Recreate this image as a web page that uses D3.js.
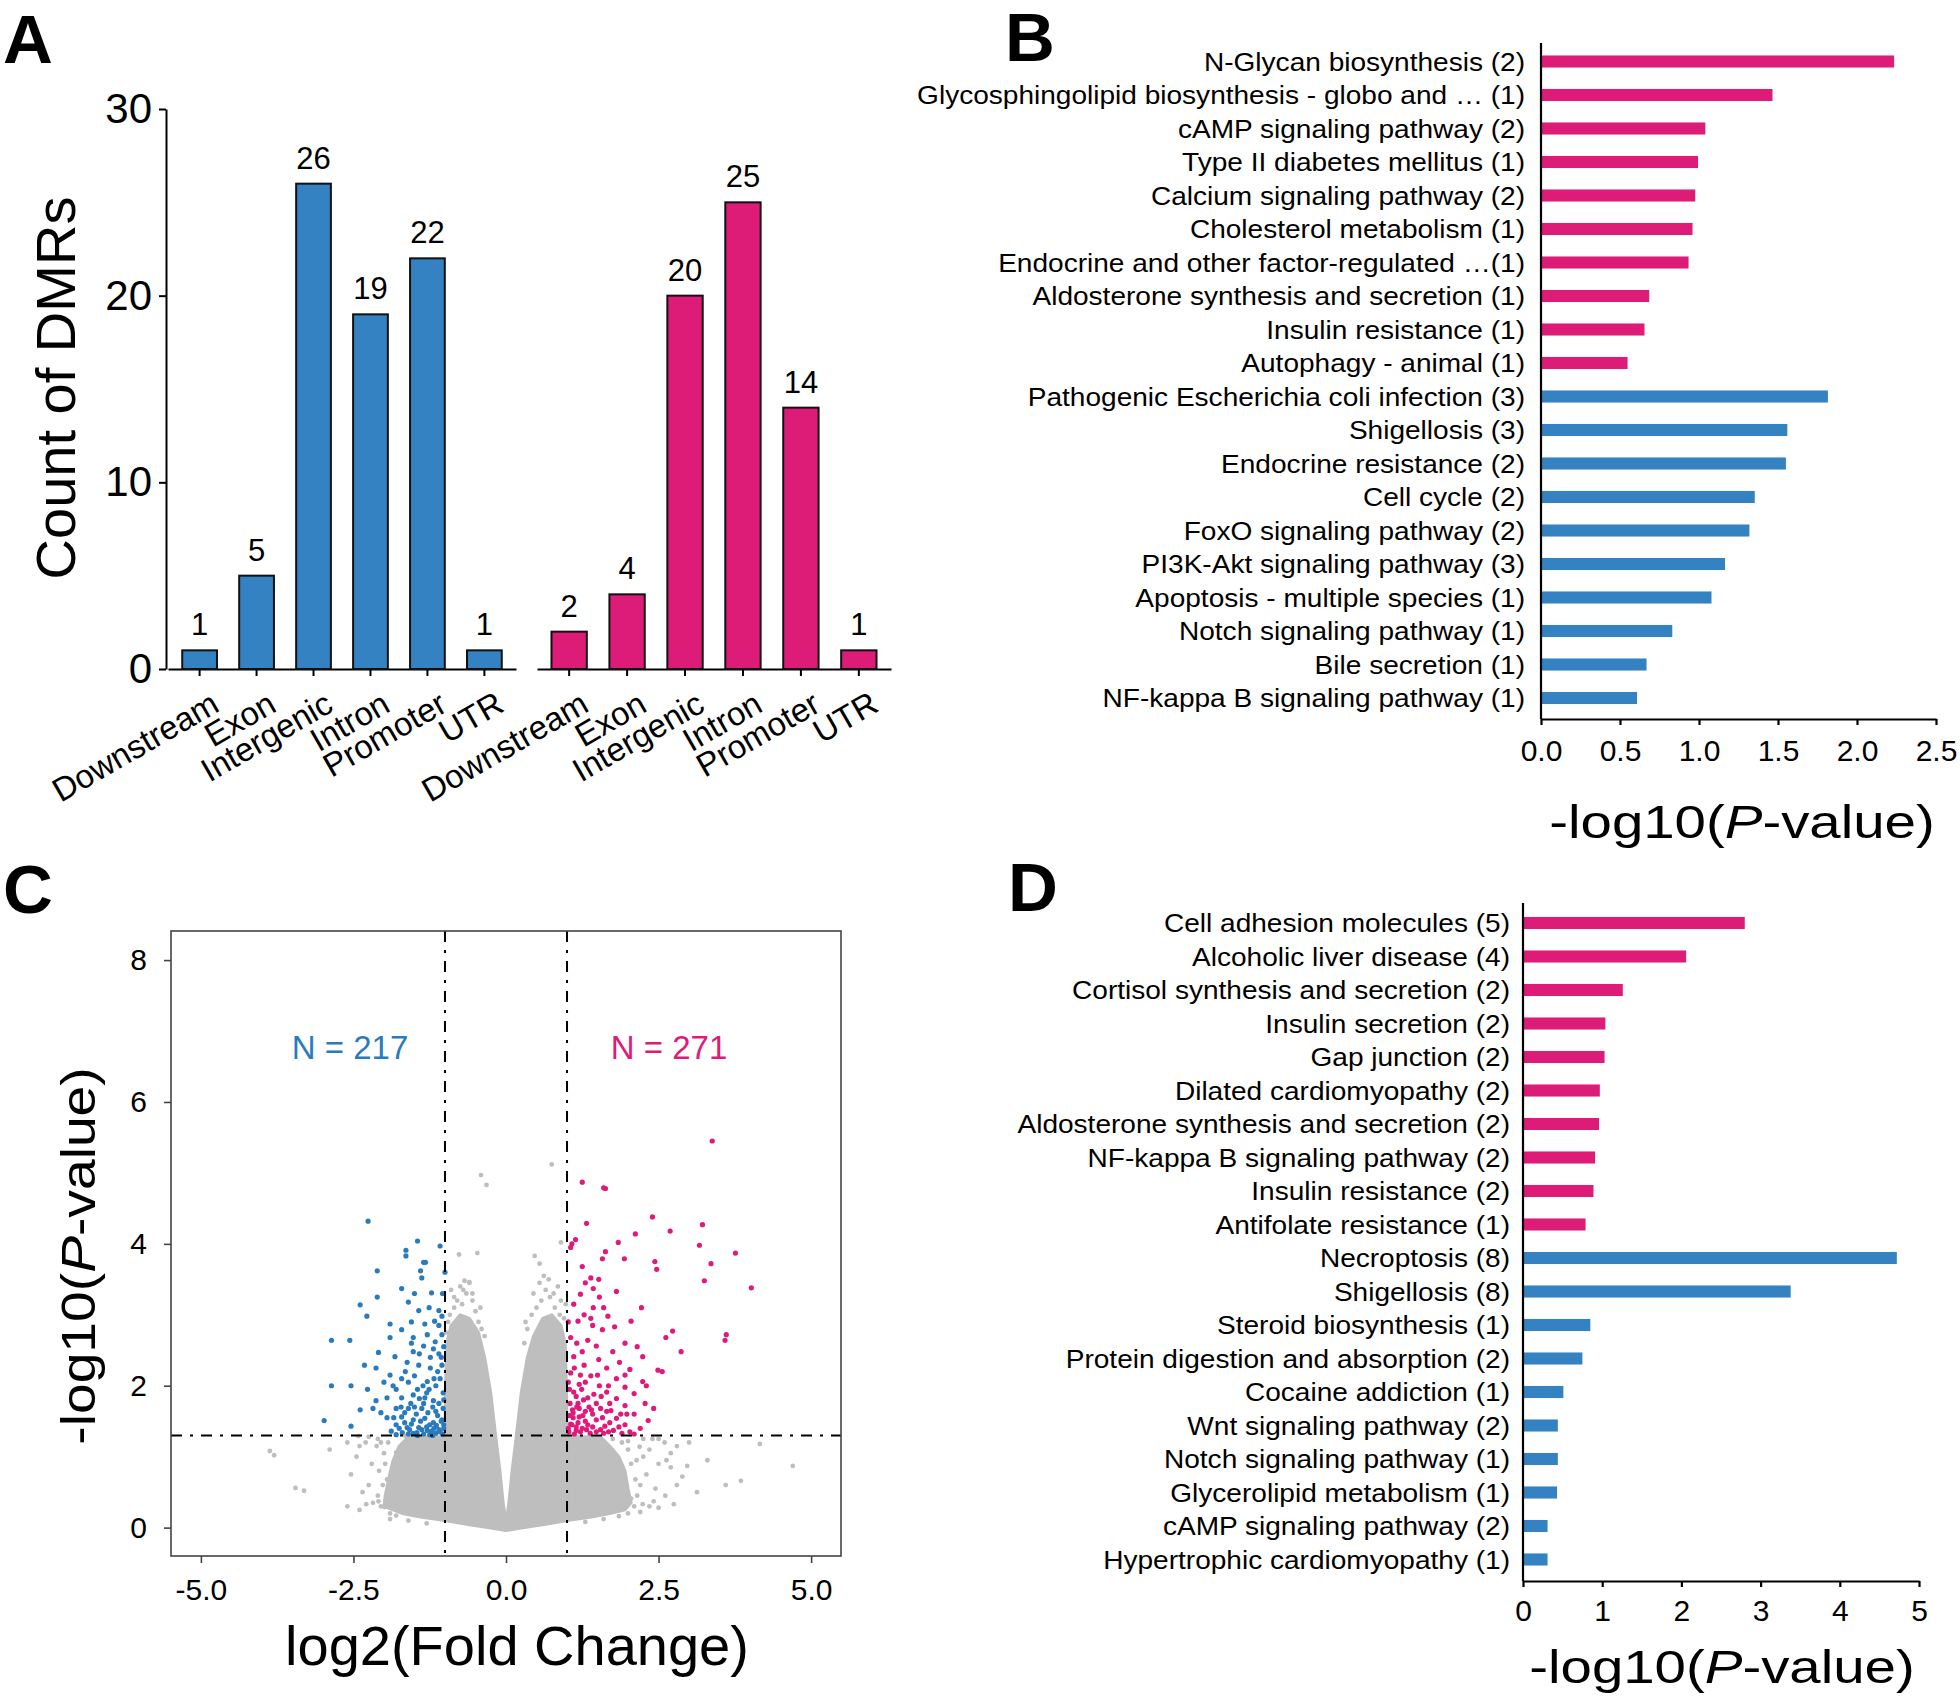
<!DOCTYPE html>
<html><head><meta charset="utf-8">
<script src="https://cdn.jsdelivr.net/npm/d3@7"></script>
<style>
body{margin:0;background:#fff}
text{font-family:"Liberation Sans",Arial,Helvetica,sans-serif;fill:#000}
</style>
</head><body>
<svg id="fig" width="1960" height="1698" xmlns="http://www.w3.org/2000/svg"></svg>
<script>
// ---------------- DATA ----------------
// Panel A
const regionCats = ["Downstream","Exon","Intergenic","Intron","Promoter","UTR"];
const hypoCounts = [1,5,26,19,22,1];
const hyperCounts = [2,4,20,25,14,1];
const countTicks = [0,10,20,30];

// Panel B
const bHyperTerms = ["N-Glycan biosynthesis (2)","Glycosphingolipid biosynthesis - globo and \u2026 (1)","cAMP signaling pathway (2)","Type II diabetes mellitus (1)","Calcium signaling pathway (2)","Cholesterol metabolism (1)","Endocrine and other factor-regulated \u2026(1)","Aldosterone synthesis and secretion (1)","Insulin resistance (1)","Autophagy - animal (1)"];
const bHyperValues = [2.235,1.465,1.04,0.994,0.976,0.959,0.934,0.685,0.655,0.548];
const bHypoTerms = ["Pathogenic Escherichia coli infection (3)","Shigellosis (3)","Endocrine resistance (2)","Cell cycle (2)","FoxO signaling pathway (2)","PI3K-Akt signaling pathway (3)","Apoptosis - multiple  species (1)","Notch signaling pathway (1)","Bile secretion (1)","NF-kappa B signaling pathway (1)"];
const bHypoValues = [1.816,1.559,1.55,1.353,1.319,1.165,1.079,0.831,0.668,0.608];
const bTicks = [0,0.5,1.0,1.5,2.0,2.5];

// Panel D
const dHyperTerms = ["Cell adhesion molecules (5)","Alcoholic liver disease (4)","Cortisol synthesis and secretion (2)","Insulin secretion (2)","Gap junction (2)","Dilated cardiomyopathy (2)","Aldosterone synthesis and secretion (2)","NF-kappa B signaling pathway (2)","Insulin resistance (2)","Antifolate resistance (1)"];
const dHyperValues = [2.80,2.06,1.26,1.04,1.03,0.97,0.96,0.91,0.89,0.79];
const dHypoTerms = ["Necroptosis (8)","Shigellosis (8)","Steroid biosynthesis (1)","Protein digestion and absorption (2)","Cocaine addiction (1)","Wnt signaling pathway (2)","Notch signaling pathway (1)","Glycerolipid metabolism (1)","cAMP signaling pathway (2)","Hypertrophic cardiomyopathy (1)"];
const dHypoValues = [4.72,3.38,0.85,0.75,0.51,0.44,0.44,0.43,0.31,0.31];
const dTicks = [0,1,2,3,4,5];

// Panel C (volcano) -- [log2FC, -log10 P]
const volcanoXTicks = [-5,-2.5,0,2.5,5];
const volcanoYTicks = [0,2,4,6,8];
const fcCut = [-1,1];
const pCut = 1.3;
const nHypo = 217, nHyper = 271;
// outline of the dense grey cloud of non-significant regions
const greyCloudOutline = [[0,-0.04],[0.3,0.0],[0.6,0.04],[1.0,0.1],[1.4,0.15],[1.7,0.2],[1.95,0.25],[2.05,0.35],[2.0,0.55],[1.95,0.8],[1.85,1.0],[1.7,1.15],[1.55,1.28],[1.0,1.28],[0.99,2.0],[0.97,2.6],[0.9,2.85],[0.75,3.0],[0.6,2.95],[0.45,2.7],[0.35,2.4],[0.25,1.9],[0.17,1.3],[0.1,0.8],[0.04,0.3],[0.0,0.1],[-0.04,0.3],[-0.1,0.8],[-0.17,1.3],[-0.25,1.9],[-0.35,2.4],[-0.45,2.75],[-0.6,2.95],[-0.75,3.0],[-0.9,2.85],[-0.97,2.6],[-0.99,2.0],[-1.0,1.28],[-1.6,1.28],[-1.75,1.15],[-1.85,0.95],[-1.92,0.7],[-1.98,0.45],[-2.0,0.3],[-1.7,0.2],[-1.4,0.15],[-1.0,0.1],[-0.6,0.04],[-0.3,0.0]];
const greyPoints = [[-0.41,4.97],[-0.32,4.83],[0.75,5.12],[0.90,4.02],[-0.77,3.85],[-0.47,3.87],[0.47,3.83],[0.55,3.72],[-0.68,3.48],[-0.60,3.46],[-3.80,1.02],[-3.87,1.08],[-3.45,0.56],[-3.31,0.52],[-2.89,1.10],[-2.54,0.75],[-2.42,1.29],[-2.29,0.33],[4.16,1.18],[4.70,0.87],[3.85,0.66],[3.60,0.60],[2.63,0.95],[2.89,0.72],[3.13,0.50],[2.97,0.87],[2.61,0.45],[2.42,0.37],[2.24,0.33],[2.05,0.41],[2.19,1.14],[2.00,1.22],[2.14,0.95],[1.67,0.75],[1.91,0.83],[2.12,0.68],[-1.99,0.29],[-2.09,0.37],[-1.82,0.48],[-1.95,0.68],[-1.71,0.83],[-1.80,1.06],[-1.65,1.29],[-2.05,0.3],[-2.1,0.45],[-2.02,0.6],[-2.08,0.8],[-1.98,0.9],[-2.0,1.05],[-1.93,1.2],[-2.12,1.15],[-2.2,0.9],[-2.25,0.6],[-1.9,0.2],[-1.8,0.17],[-2.18,0.35],[-2.35,0.5],[-2.3,1.2],[-2.1,1.25],[-0.98,2.75],[-0.95,2.9],[-0.92,3.0],[-0.85,3.1],[-0.8,3.2],[-0.72,3.15],[-0.65,3.3],[-0.6,3.45],[-0.55,3.2],[-0.5,3.05],[-0.45,2.9],[-0.4,2.8],[-0.9,3.35],[-0.75,3.4],[0.3,2.6],[0.35,2.8],[0.42,3.0],[0.5,3.1],[0.58,3.2],[0.65,3.35],[0.72,3.25],[0.8,3.1],[0.88,3.0],[0.95,2.95],[0.98,3.15],[0.62,3.55],[0.85,3.4],[2.0,0.2],[2.1,0.3],[2.15,0.45],[2.2,0.6],[2.05,0.9],[2.0,1.1],[1.9,1.2],[1.75,1.25],[2.25,1.0],[2.3,0.75],[2.45,0.55],[2.35,0.3],[2.5,1.25],[3.0,1.2],[2.4,1.25],[2.6,1.2],[2.8,1.15],[-2.6,1.2],[-2.45,1.0],[-0.85,3.25],[-0.7,3.35],[-0.55,3.3],[-0.42,3.1],[-0.35,2.7],[0.45,3.3],[0.55,3.45],[0.7,3.5],[0.78,3.3],[0.9,3.2],[0.32,2.9],[-1.9,0.12],[-1.6,0.1],[-1.3,0.06],[1.3,0.08],[1.6,0.12],[1.85,0.16],[2.2,0.22],[2.5,0.28],[2.75,0.33],[-2.4,0.25],[-2.6,0.3],[-2.25,1.28],[-2.4,1.15],[-2.05,1.2],[2.25,1.25],[2.35,1.1],[2.5,0.9],[2.7,0.85],[2.8,0.6],[3.3,0.95],[2.7,1.05]];
const hypoPoints = [[-2.26,4.32],[-1.64,3.91],[-1.64,3.83],[-1.45,4.04],[-1.08,3.97],[-1.35,3.74],[-1.32,3.74],[-1.40,3.62],[-2.11,3.62],[-1.38,3.52],[-1.71,3.37],[-2.11,3.25],[-1.22,3.31],[-2.39,3.14],[-2.28,2.98],[-1.60,3.18],[-1.43,3.06],[-1.10,3.06],[-1.05,2.98],[-1.33,2.87],[-1.17,2.91],[-1.90,2.87],[-1.71,2.79],[-2.56,2.64],[-2.86,2.64],[-1.52,2.68],[-1.29,2.72],[-1.05,2.72],[-1.90,2.68],[-2.09,2.47],[-1.52,2.48],[-1.35,2.56],[-1.19,2.52],[-1.10,2.45],[-1.82,2.41],[-2.32,2.29],[-2.13,2.25],[-1.62,2.33],[-1.43,2.29],[-1.24,2.25],[-1.05,2.29],[-2.54,2.0],[-2.86,2.0],[-1.71,2.10],[-1.50,2.14],[-1.29,2.06],[-1.15,2.0],[-2.27,1.95],[-1.80,1.95],[-1.95,1.83],[-2.13,1.79],[-1.71,1.83],[-1.52,1.87],[-1.33,1.83],[-1.19,1.79],[-1.10,1.75],[-2.18,1.68],[-2.39,1.66],[-1.80,1.68],[-1.60,1.68],[-1.38,1.68],[-1.15,1.64],[-1.03,1.68],[-2.98,1.51],[-2.54,1.43],[-1.71,1.56],[-1.52,1.52],[-1.33,1.54],[-1.19,1.48],[-1.05,1.52],[-1.80,1.45],[-1.62,1.41],[-1.43,1.41],[-1.29,1.37],[-1.10,1.38],[-1.52,1.33],[-1.15,1.33],[-1.25,1.45],[-1.12,1.58],[-1.02,1.45],[-1.08,1.35],[-1.2,1.7],[-1.28,1.62],[-1.4,1.5],[-1.47,1.6],[-1.56,1.75],[-1.66,1.62],[-1.75,1.4],[-1.88,1.36],[-1.95,1.55],[-2.05,1.62],[-1.03,1.9],[-1.08,2.1],[-1.12,2.2],[-1.26,1.95],[-1.36,2.0],[-1.45,1.95],[-1.6,2.05],[-1.9,2.15],[-1.02,2.55],[-1.04,3.3],[-1.0,3.6],[-1.25,1.31],[-1.35,1.32],[-1.6,1.32],[-1.7,1.34],[-1.04,1.32],[-1.18,1.4],[-1.55,1.46],[-1.35,1.75],[-1.02,1.8],[-1.02,1.4],[-1.06,1.5],[-1.14,1.44],[-1.22,1.36],[-1.3,1.42],[-1.38,1.38],[-1.46,1.34],[-1.58,1.38],[-1.66,1.48],[-1.72,1.7],[-1.84,1.55],[-1.5,1.7],[-1.42,1.82],[-1.3,1.9],[-1.18,2.1],[-1.06,2.4],[-1.16,2.62],[-1.24,2.4],[-1.42,2.45],[-1.55,2.6],[-1.65,2.2],[-1.85,2.0],[-2.0,2.05],[-1.1,2.85],[-1.26,3.1],[-1.5,3.3],[-1.55,2.9],[-1.2,1.3],[-1.45,1.3],[-1.8,1.31]];
const hyperPoints = [[3.38,5.45],[1.25,4.87],[1.60,4.79],[1.63,4.78],[1.32,4.29],[2.40,4.38],[3.22,4.27],[2.12,4.14],[2.69,4.18],[1.14,4.06],[1.84,4.02],[3.17,3.98],[3.76,3.87],[1.63,3.89],[1.58,3.79],[1.94,3.79],[2.44,3.75],[2.47,3.64],[3.36,3.72],[1.06,3.95],[1.25,3.68],[1.39,3.52],[3.25,3.48],[1.30,3.45],[4.02,3.38],[1.43,3.37],[1.22,3.29],[1.53,3.25],[1.81,3.33],[1.11,3.15],[1.43,3.10],[2.22,3.10],[1.67,2.98],[1.39,2.95],[1.18,2.91],[2.05,2.91],[1.78,2.83],[1.58,2.79],[2.73,2.77],[2.62,2.68],[3.61,2.72],[3.59,2.64],[1.06,2.68],[1.34,2.64],[1.48,2.56],[1.25,2.48],[2.87,2.48],[1.75,2.48],[1.11,2.41],[2.24,2.41],[1.52,2.37],[1.86,2.33],[1.28,2.29],[1.65,2.25],[2.03,2.23],[2.49,2.22],[2.56,2.20],[1.06,2.18],[1.39,2.14],[1.81,2.10],[2.24,2.06],[1.20,2.02],[1.53,2.0],[1.95,1.98],[1.11,1.91],[1.65,1.91],[2.10,1.89],[1.34,1.83],[1.81,1.82],[1.18,1.75],[1.48,1.75],[1.95,1.72],[2.28,1.75],[2.42,1.68],[1.09,1.66],[1.30,1.64],[1.65,1.64],[2.10,1.60],[1.20,1.56],[1.48,1.52],[1.81,1.54],[2.33,1.51],[1.06,1.46],[1.34,1.45],[1.62,1.43],[1.95,1.45],[1.15,1.37],[1.48,1.35],[1.76,1.37],[2.03,1.35],[1.25,1.40],[1.03,1.35],[1.1,1.55],[1.2,1.68],[1.27,1.8],[1.36,1.7],[1.42,1.6],[1.05,1.75],[1.15,1.85],[1.24,1.95],[1.02,2.05],[1.12,2.25],[1.3,2.05],[1.56,1.85],[1.7,1.75],[1.58,1.55],[1.7,1.48],[1.88,1.6],[1.38,1.33],[1.6,1.33],[1.9,1.33],[2.2,1.4],[1.12,1.32],[1.3,1.5],[1.04,1.58],[1.18,1.48],[1.44,1.88],[1.02,2.9],[1.08,4.0],[1.02,1.4],[1.08,1.45],[1.15,1.42],[1.22,1.35],[1.32,1.38],[1.42,1.42],[1.55,1.38],[1.68,1.35],[1.85,1.42],[2.1,1.32],[1.1,1.62],[1.16,1.7],[1.26,1.58],[1.4,1.66],[1.55,1.68],[1.72,1.65],[1.98,1.6],[1.04,1.95],[1.22,2.15],[1.5,2.15],[1.68,2.0],[1.95,2.15],[2.3,2.0],[1.16,2.6],[1.42,2.85],[1.6,3.1],[1.95,2.6],[2.15,2.55],[1.28,3.0],[1.52,3.5]];

// ---------------- DRAW ----------------
const svg = d3.select("#fig");
const FONT = '"Liberation Sans",Arial,Helvetica,sans-serif';
const BLUE = "#3482c1", PINK = "#dd1c78";
const VBLUE = "#2a7bbd", VPINK = "#e0197a", GREY = "#bebebe";

function styleAxis(g, fs, sw) {
  g.attr("font-family", FONT).attr("font-size", fs);
  g.selectAll("path,line").attr("stroke", "#000").attr("stroke-width", sw);
  g.selectAll("text").attr("fill", "#000");
}
function panelLetter(t, x, y) {
  svg.append("text").attr("x", x).attr("y", y).text(t)
    .attr("font-size", 69).attr("font-weight", "bold");
}

// ===== Panel A =====
panelLetter("A", 3, 63);
const yA = d3.scaleLinear().domain([0, 30]).range([669, 109]);
const xA1 = d3.scaleBand().domain(regionCats).range([168, 516]).paddingInner(0.39).paddingOuter(0.25);
const xA2 = d3.scaleBand().domain(regionCats).range([537, 891]).paddingInner(0.39).paddingOuter(0.25);

const gAy = svg.append("g").attr("transform", "translate(166,0)")
  .call(d3.axisLeft(yA).tickValues(countTicks).tickSize(7).tickSizeOuter(0).tickPadding(7));
styleAxis(gAy, 42, 2);

[[xA1, hypoCounts, BLUE], [xA2, hyperCounts, PINK]].forEach(([xs, vals, col]) => {
  const gx = svg.append("g").attr("transform", "translate(0,669)")
    .call(d3.axisBottom(xs).tickSize(7).tickSizeOuter(0));
  styleAxis(gx, 33, 2);
  gx.selectAll("text").attr("x", -2).attr("y", 23).attr("dy", "0.71em")
    .attr("transform", "rotate(-30)").attr("text-anchor", "end");
  svg.append("g").selectAll("rect").data(vals).join("rect")
    .attr("x", (d, i) => xs(regionCats[i])).attr("width", xs.bandwidth())
    .attr("y", d => yA(d)).attr("height", d => yA(0) - yA(d))
    .attr("fill", col).attr("stroke", "#111").attr("stroke-width", 2);
  svg.append("g").selectAll("text").data(vals).join("text")
    .attr("x", (d, i) => xs(regionCats[i]) + xs.bandwidth() / 2)
    .attr("y", d => yA(d) - 15).attr("text-anchor", "middle")
    .attr("font-size", 31).text(d => d);
});
svg.append("text").attr("transform", "translate(75,388) rotate(-90)")
  .attr("text-anchor", "middle").attr("font-size", 56).text("Count of DMRs");

// ===== KEGG bar panels (B and D) =====
function keggPanel(opt) {
  const terms = opt.hyperTerms.concat(opt.hypoTerms);
  const vals = opt.hyperValues.concat(opt.hypoValues);
  const cols = opt.hyperTerms.map(() => PINK).concat(opt.hypoTerms.map(() => BLUE));
  const x = d3.scaleLinear().domain(opt.domain).range([opt.x0, opt.x1]);
  const y = d3.scaleBand().domain(terms).range([opt.r0, opt.r1]).paddingInner(0.64).paddingOuter(0.32);
  svg.append("g").selectAll("rect").data(vals).join("rect")
    .attr("x", x(0) + 1).attr("y", (d, i) => y(terms[i]))
    .attr("width", d => x(d) - x(0) - 1).attr("height", y.bandwidth())
    .attr("fill", (d, i) => cols[i]);
  svg.append("line").attr("x1", x(0)).attr("x2", x(0)).attr("y1", opt.top).attr("y2", opt.axisY)
    .attr("stroke", "#000").attr("stroke-width", 2.2);
  svg.append("g").selectAll("text").data(terms).join("text")
    .attr("transform", d => `translate(${opt.labelX},${y(d) + y.bandwidth() / 2}) scale(1.1,1)`)
    .attr("text-anchor", "end").attr("dy", "0.36em").attr("font-size", 25.5).text(d => d);
  const gx = svg.append("g").attr("transform", `translate(0,${opt.axisY})`)
    .call(d3.axisBottom(x).tickValues(opt.ticks).tickSize(6).tickSizeOuter(0).tickPadding(opt.tickPad)
      .tickFormat(opt.fmt));
  styleAxis(gx, 30, 2.2);
  const t = svg.append("text").attr("transform", `translate(${opt.titleX},${opt.titleY}) scale(1.2,1)`)
    .attr("text-anchor", "middle").attr("font-size", 47);
  t.append("tspan").text("-log10(");
  t.append("tspan").attr("font-style", "italic").text("P");
  t.append("tspan").text("-value)");
}

panelLetter("B", 1005, 61);
keggPanel({hyperTerms: bHyperTerms, hyperValues: bHyperValues, hypoTerms: bHypoTerms, hypoValues: bHypoValues,
  domain: [0, 2.5], x0: 1541, x1: 1936, r0: 44.75, r1: 714.75, top: 43, axisY: 719,
  labelX: 1525, ticks: bTicks, fmt: d => d.toFixed(1), tickPad: 15, titleX: 1742, titleY: 838});

panelLetter("D", 1008, 911);
keggPanel({hyperTerms: dHyperTerms, hyperValues: dHyperValues, hypoTerms: dHypoTerms, hypoValues: dHypoValues,
  domain: [0, 5], x0: 1523, x1: 1919, r0: 906.25, r1: 1576.25, top: 903, axisY: 1581,
  labelX: 1510, ticks: dTicks, fmt: d => d, tickPad: 13, titleX: 1722, titleY: 1683});

// ===== Panel C (volcano) =====
panelLetter("C", 3, 913);
const xC = d3.scaleLinear().domain([-5.49, 5.49]).range([171, 841]);
const yC = d3.scaleLinear().domain([-0.4, 8.41]).range([1556, 931]);
svg.append("clipPath").attr("id", "cclip").append("rect")
  .attr("x", 171).attr("y", 931).attr("width", 670).attr("height", 625);
const plot = svg.append("g").attr("clip-path", "url(#cclip)");
plot.append("path").datum(greyCloudOutline)
  .attr("d", d3.line().x(d => xC(d[0])).y(d => yC(d[1])).curve(d3.curveLinearClosed))
  .attr("fill", GREY).attr("stroke", GREY).attr("stroke-width", 3).attr("stroke-linejoin", "round");
plot.append("g").selectAll("circle").data(greyPoints).join("circle")
  .attr("cx", d => xC(d[0])).attr("cy", d => yC(d[1])).attr("r", 2.4).attr("fill", GREY);
plot.append("g").selectAll("circle").data(hypoPoints).join("circle")
  .attr("cx", d => xC(d[0])).attr("cy", d => yC(d[1])).attr("r", 2.6).attr("fill", VBLUE);
plot.append("g").selectAll("circle").data(hyperPoints).join("circle")
  .attr("cx", d => xC(d[0])).attr("cy", d => yC(d[1])).attr("r", 2.6).attr("fill", VPINK);
const dash = "11,8,3,8";
fcCut.forEach(v => plot.append("line").attr("x1", xC(v)).attr("x2", xC(v)).attr("y1", 931).attr("y2", 1556)
  .attr("stroke", "#000").attr("stroke-width", 2).attr("stroke-dasharray", dash));
plot.append("line").attr("x1", 171).attr("x2", 841).attr("y1", yC(pCut)).attr("y2", yC(pCut))
  .attr("stroke", "#000").attr("stroke-width", 2).attr("stroke-dasharray", dash);
svg.append("rect").attr("x", 171).attr("y", 931).attr("width", 670).attr("height", 625)
  .attr("fill", "none").attr("stroke", "#444").attr("stroke-width", 1.6);
const gCy = svg.append("g").attr("transform", "translate(171,0)")
  .call(d3.axisLeft(yC).tickValues(volcanoYTicks).tickSize(7).tickPadding(17).tickSizeOuter(0));
styleAxis(gCy, 30, 1.6); gCy.select(".domain").remove();
gCy.selectAll("line").attr("stroke", "#444");
const gCx = svg.append("g").attr("transform", "translate(0,1556)")
  .call(d3.axisBottom(xC).tickValues(volcanoXTicks).tickSize(7).tickPadding(16).tickSizeOuter(0)
    .tickFormat(d => d.toFixed(1)));
styleAxis(gCx, 30, 1.6); gCx.select(".domain").remove();
gCx.selectAll("line").attr("stroke", "#444");
svg.append("text").attr("x", 350).attr("y", 1059).attr("text-anchor", "middle")
  .attr("font-size", 33).style("fill", VBLUE).text("N = " + nHypo);
svg.append("text").attr("x", 669).attr("y", 1059).attr("text-anchor", "middle")
  .attr("font-size", 33).style("fill", VPINK).text("N = " + nHyper);
svg.append("text").attr("x", 517).attr("y", 1665).attr("text-anchor", "middle")
  .attr("font-size", 56).text("log2(Fold Change)");
const ct = svg.append("text").attr("transform", "translate(95,1256) rotate(-90) scale(1.15,1)")
  .attr("text-anchor", "middle").attr("font-size", 48);
ct.append("tspan").text("-log10(");
ct.append("tspan").attr("font-style", "italic").text("P");
ct.append("tspan").text("-value)");
</script>
</body></html>
